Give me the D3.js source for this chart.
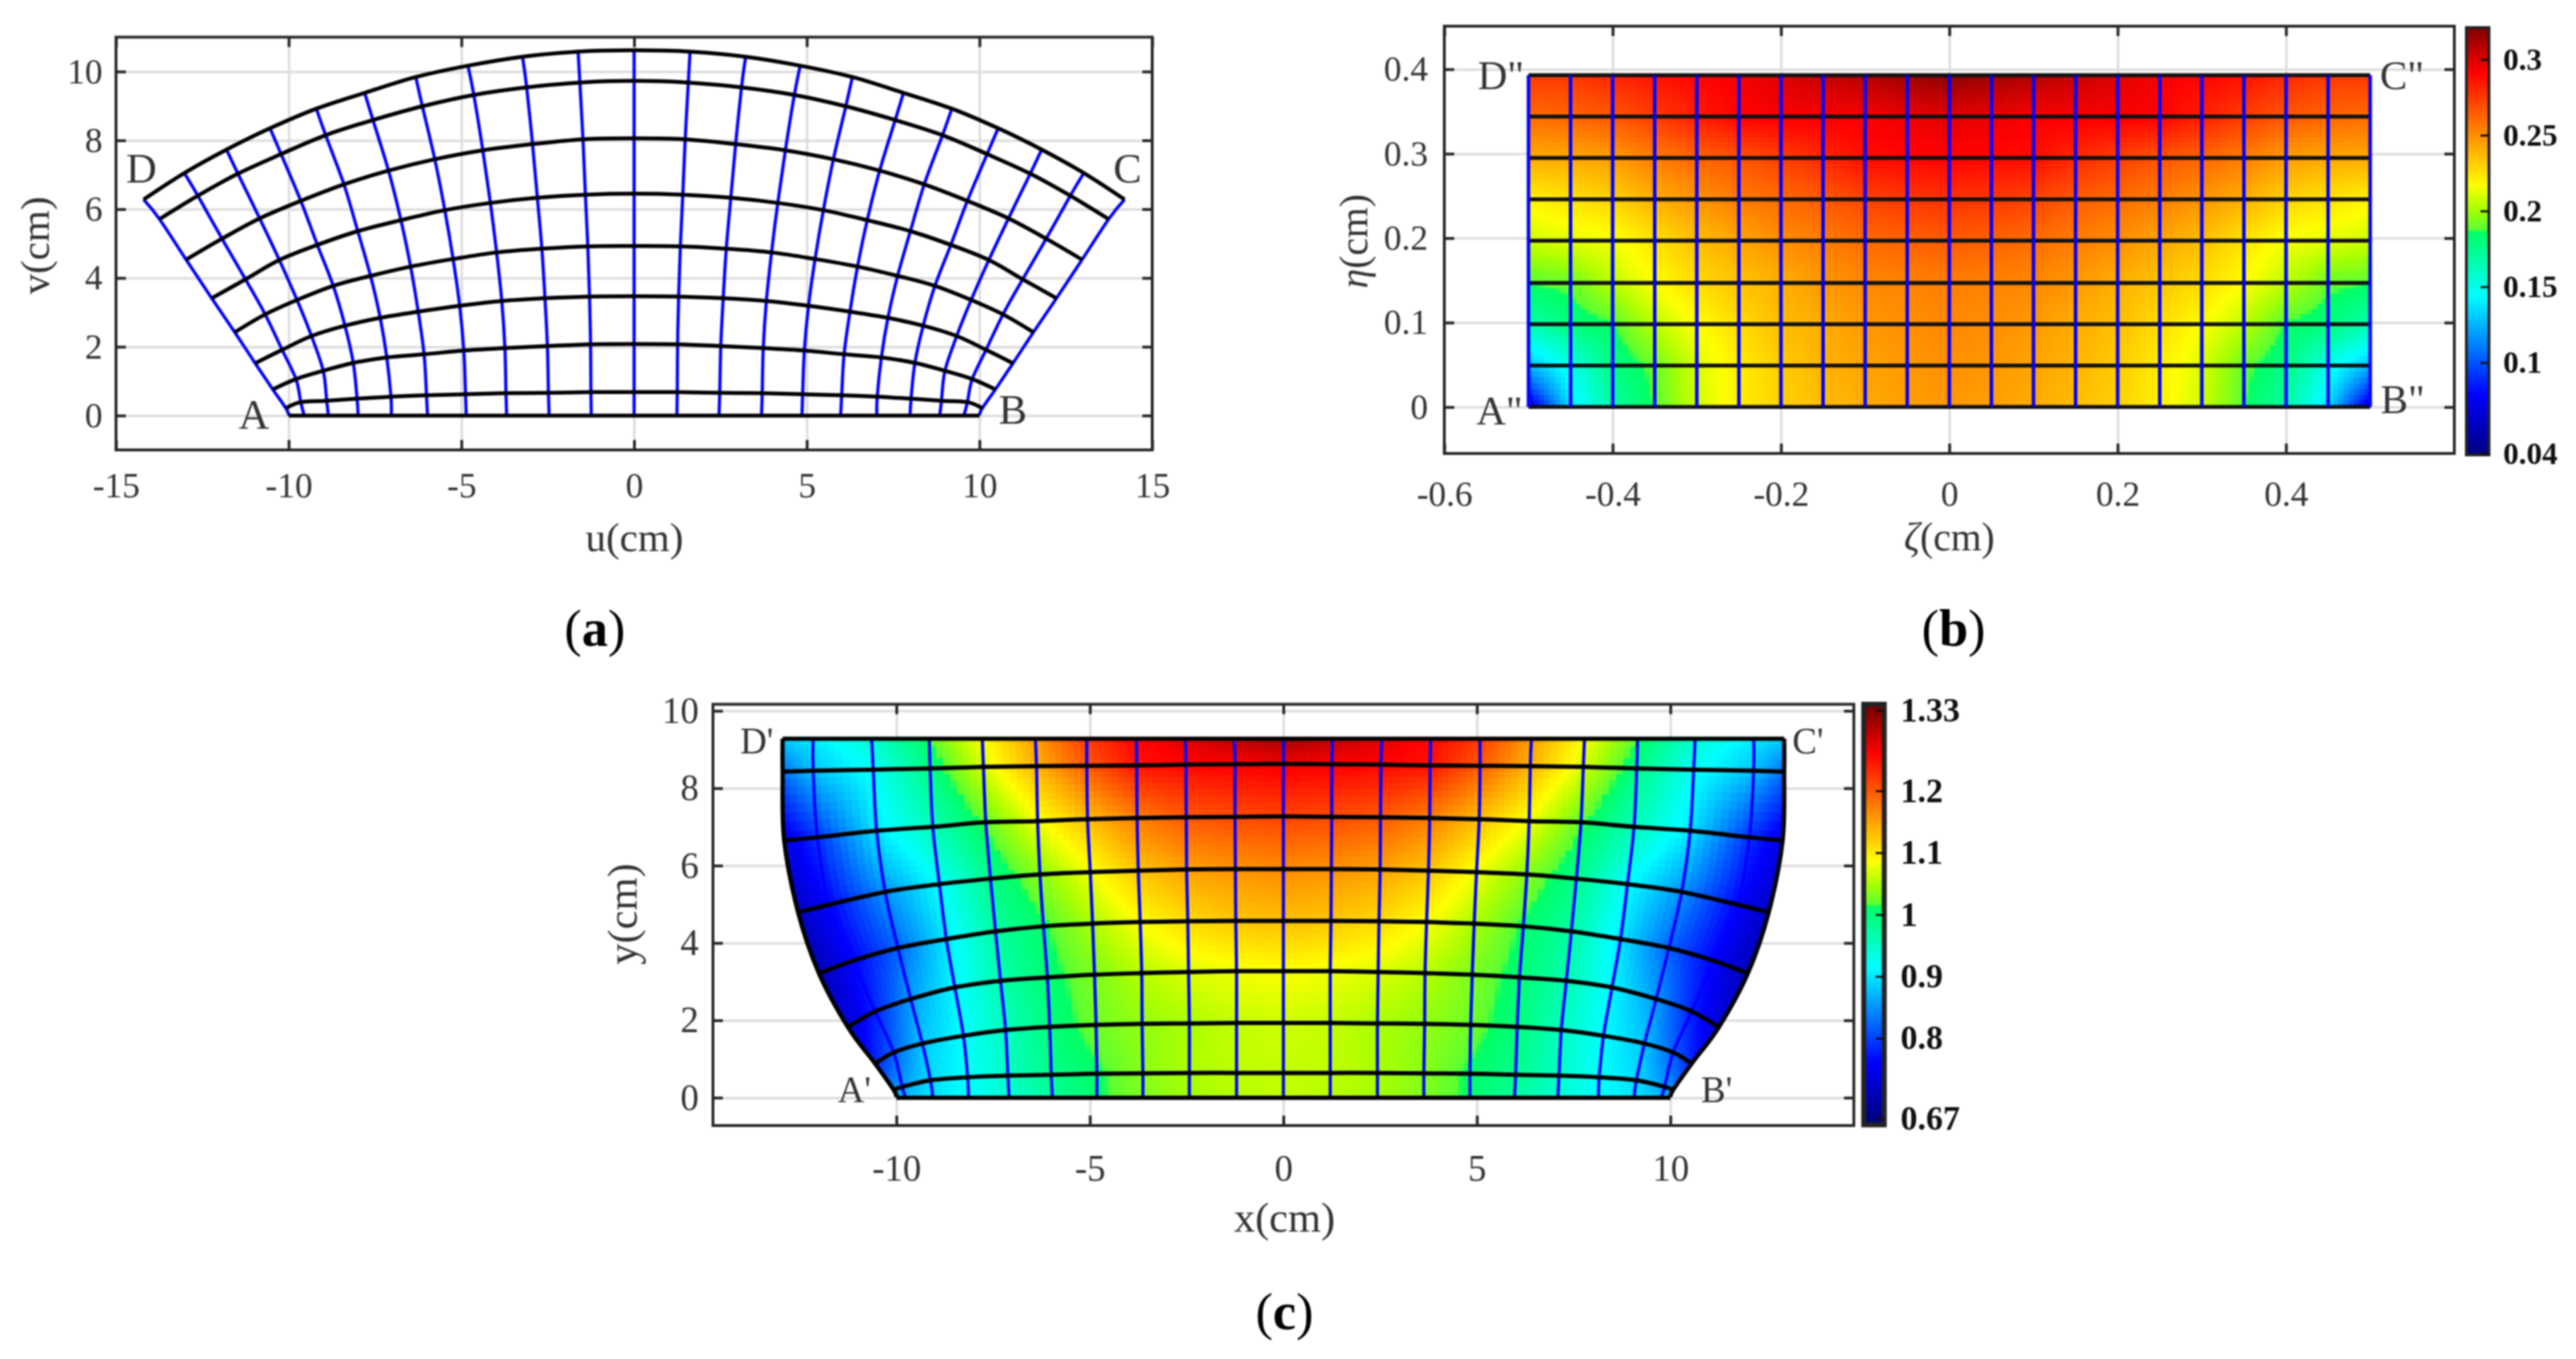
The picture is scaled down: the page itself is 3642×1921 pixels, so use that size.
<!DOCTYPE html>
<html lang="en">
<head>
    <meta charset="UTF-8">
    <title>Mesh mapping panels</title>
    <script src="https://d3js.org/d3.v7.min.js"></script>
    <style>
        body { margin: 0; background: #fff; }
        svg { display: block; filter: blur(0.9px); }
        text { font-family: "Liberation Serif", serif; fill: #333; }
        .cbar text { font-weight: bold; fill: #111; }
    </style>
</head>
<body>
    <div id="chart"></div>

    <script>
        // left half of every mesh, i = 0..10, rows j = 0 (bottom) .. 8 (top); the right half mirrors it
        var aNodeX = [
            [-10.00, -9.55, -8.85, -7.99, -7.03, -5.98, -4.86, -3.69, -2.46, -1.24, 0],
            [-10.08, -9.65, -8.90, -8.02, -7.04, -6.01, -4.88, -3.71, -2.48, -1.25, 0],
            [-10.46, -9.79, -9.00, -8.13, -7.16, -6.08, -4.93, -3.74, -2.51, -1.26, 0],
            [-10.97, -10.19, -9.34, -8.37, -7.35, -6.25, -5.05, -3.83, -2.58, -1.29, 0],
            [-11.56, -10.68, -9.76, -8.71, -7.63, -6.47, -5.24, -3.98, -2.67, -1.34, 0],
            [-12.23, -11.25, -10.27, -9.17, -8.00, -6.75, -5.48, -4.16, -2.80, -1.41, 0],
            [-12.97, -11.93, -10.84, -9.65, -8.40, -7.11, -5.77, -4.38, -2.94, -1.48, 0],
            [-13.74, -12.63, -11.47, -10.22, -8.93, -7.56, -6.13, -4.64, -3.11, -1.57, 0],
            [-14.20, -13.02, -11.80, -10.54, -9.20, -7.80, -6.32, -4.81, -3.23, -1.62, 0]
        ];
        var aNodeY = [
            [0, 0, 0, 0, 0, 0, 0, 0, 0, 0, 0],
            [0.21, 0.39, 0.43, 0.49, 0.55, 0.59, 0.62, 0.65, 0.66, 0.68, 0.68],
            [0.76, 1.06, 1.30, 1.53, 1.69, 1.78, 1.89, 1.96, 2.02, 2.07, 2.08],
            [1.52, 1.91, 2.31, 2.61, 2.84, 3.02, 3.19, 3.33, 3.41, 3.46, 3.47],
            [2.42, 2.94, 3.36, 3.77, 4.06, 4.33, 4.55, 4.74, 4.85, 4.92, 4.93],
            [3.41, 3.96, 4.52, 4.96, 5.36, 5.68, 5.97, 6.18, 6.33, 6.42, 6.45],
            [4.53, 5.14, 5.73, 6.24, 6.72, 7.12, 7.45, 7.71, 7.89, 8.03, 8.06],
            [5.71, 6.39, 7.03, 7.60, 8.15, 8.59, 8.99, 9.32, 9.54, 9.68, 9.73],
            [6.28, 7.05, 7.73, 8.35, 8.92, 9.38, 9.84, 10.17, 10.43, 10.58, 10.62]
        ];

        var bZeta = [-0.5, -0.45, -0.4, -0.35, -0.3, -0.25, -0.2, -0.15, -0.1, -0.05, 0];
        var bEta = [0, 0.049, 0.098, 0.147, 0.197, 0.246, 0.295, 0.344, 0.393];
        var bValues = [
            [0.060, 0.135, 0.168, 0.187, 0.208, 0.221, 0.230, 0.236, 0.241, 0.245, 0.247],
            [0.127, 0.150, 0.178, 0.190, 0.210, 0.222, 0.232, 0.239, 0.244, 0.247, 0.250],
            [0.165, 0.180, 0.186, 0.205, 0.217, 0.227, 0.236, 0.241, 0.247, 0.250, 0.252],
            [0.187, 0.190, 0.205, 0.217, 0.227, 0.234, 0.240, 0.247, 0.252, 0.253, 0.255],
            [0.208, 0.212, 0.215, 0.225, 0.236, 0.243, 0.250, 0.255, 0.260, 0.263, 0.265],
            [0.220, 0.225, 0.230, 0.240, 0.248, 0.255, 0.260, 0.265, 0.272, 0.275, 0.277],
            [0.242, 0.242, 0.246, 0.255, 0.262, 0.267, 0.273, 0.280, 0.288, 0.290, 0.291],
            [0.260, 0.262, 0.266, 0.274, 0.283, 0.291, 0.293, 0.293, 0.293, 0.296, 0.298],
            [0.276, 0.277, 0.282, 0.288, 0.2915, 0.294, 0.300, 0.306, 0.310, 0.316, 0.320]
        ];

        var cNodeX = [
            [-10.00, -9.76, -9.06, -8.14, -7.09, -5.97, -4.82, -3.63, -2.43, -1.21, 0],
            [-10.07, -9.85, -9.12, -8.16, -7.12, -6.00, -4.82, -3.63, -2.43, -1.21, 0],
            [-10.55, -10.07, -9.33, -8.27, -7.18, -6.04, -4.84, -3.65, -2.43, -1.21, 0],
            [-11.25, -10.55, -9.63, -8.49, -7.31, -6.10, -4.88, -3.66, -2.45, -1.21, 0],
            [-12.00, -11.12, -9.96, -8.71, -7.44, -6.20, -4.93, -3.70, -2.47, -1.23, 0],
            [-12.54, -11.73, -10.29, -8.89, -7.57, -6.29, -4.99, -3.75, -2.50, -1.24, 0],
            [-12.90, -12.04, -10.51, -9.06, -7.69, -6.35, -5.06, -3.78, -2.51, -1.25, 0],
            [-12.94, -12.15, -10.60, -9.13, -7.75, -6.38, -5.08, -3.79, -2.52, -1.25, 0],
            [-12.94, -12.15, -10.64, -9.15, -7.78, -6.41, -5.08, -3.80, -2.54, -1.27, 0]
        ];
        var cNodeY = [
            [0, 0, 0, 0, 0, 0, 0, 0, 0, 0, 0],
            [0.20, 0.28, 0.45, 0.53, 0.57, 0.59, 0.62, 0.63, 0.64, 0.64, 0.64],
            [0.88, 1.17, 1.40, 1.60, 1.75, 1.83, 1.88, 1.91, 1.92, 1.93, 1.93],
            [1.82, 2.23, 2.55, 2.85, 3.02, 3.11, 3.18, 3.22, 3.25, 3.27, 3.27],
            [3.21, 3.54, 3.87, 4.10, 4.30, 4.43, 4.50, 4.54, 4.56, 4.57, 4.57],
            [4.79, 4.99, 5.32, 5.52, 5.66, 5.77, 5.83, 5.87, 5.90, 5.91, 5.91],
            [6.65, 6.73, 6.90, 7.00, 7.12, 7.15, 7.20, 7.23, 7.25, 7.26, 7.27],
            [8.43, 8.45, 8.48, 8.51, 8.55, 8.57, 8.58, 8.59, 8.61, 8.62, 8.63],
            [9.28, 9.28, 9.28, 9.28, 9.28, 9.28, 9.28, 9.28, 9.28, 9.28, 9.28]
        ];
        var cValues = [
            [0.885, 0.885, 0.900, 0.915, 0.940, 0.975, 1.010, 1.030, 1.045, 1.055, 1.058],
            [0.850, 0.855, 0.895, 0.915, 0.950, 0.990, 1.010, 1.035, 1.050, 1.058, 1.060],
            [0.780, 0.820, 0.880, 0.915, 0.955, 1.000, 1.025, 1.040, 1.050, 1.060, 1.065],
            [0.730, 0.780, 0.855, 0.910, 0.965, 1.005, 1.030, 1.055, 1.070, 1.080, 1.085],
            [0.705, 0.760, 0.820, 0.900, 0.975, 1.010, 1.050, 1.085, 1.110, 1.125, 1.130],
            [0.715, 0.760, 0.850, 0.915, 0.990, 1.035, 1.080, 1.125, 1.150, 1.160, 1.165],
            [0.740, 0.790, 0.900, 0.960, 1.020, 1.080, 1.130, 1.175, 1.200, 1.210, 1.215],
            [0.830, 0.880, 0.920, 0.995, 1.070, 1.140, 1.200, 1.250, 1.260, 1.265, 1.270],
            [0.890, 0.905, 0.947, 1.020, 1.085, 1.155, 1.225, 1.260, 1.280, 1.300, 1.320]
        ];

        // colour bar positions (0..1) and colours
        var mapStops = [0, 0.138, 0.37, 0.52, 0.525, 0.575, 0.63, 0.895, 1];
        var mapColors = ["#000082", "#0000ff", "#00ffff", "#00ff64", "#5aff32", "#aaff00", "#ffff00", "#ff0000", "#800000"];

        var aXTicks = [-15, -10, -5, 0, 5, 10, 15];
        var aYTicks = [0, 2, 4, 6, 8, 10];
        var bXTicks = [-0.6, -0.4, -0.2, 0, 0.2, 0.4];
        var bYTicks = [0, 0.1, 0.2, 0.3, 0.4];
        var cXTicks = [-10, -5, 0, 5, 10];
        var cYTicks = [0, 2, 4, 6, 8, 10];
        var bBarTicks = [0.04, 0.1, 0.15, 0.2, 0.25, 0.3];
        var cBarTicks = [0.67, 0.8, 0.9, 1, 1.1, 1.2, 1.33];

        var svg = d3.select("#chart").append("svg")
            .attr("width", 3642)
            .attr("height", 1921);

        var mapScale = d3.scaleLinear().domain(mapStops).range(mapColors).clamp(true);

        function mirrorNeg(rows) {
            return rows.map(function(r) {
                return r.concat(r.slice(0, -1).reverse().map(function(v) { return -v; }));
            });
        }
        function mirrorSame(rows) {
            return rows.map(function(r) {
                return r.concat(r.slice(0, -1).reverse());
            });
        }

        // frame, grid, inward ticks on all sides and the labels
        function drawAxes(g, x, y, xTicks, yTicks, opt) {
            var x0 = x.range()[0], x1 = x.range()[1], y0 = y.range()[0], y1 = y.range()[1];
            var grid = g.append("g");
            grid.append("g").attr("transform", "translate(0," + y0 + ")")
                .call(d3.axisBottom(x).tickValues(xTicks).tickSize(y1 - y0).tickFormat(""));
            grid.append("g").attr("transform", "translate(" + x0 + ",0)")
                .call(d3.axisLeft(y).tickValues(yTicks).tickSize(x0 - x1).tickFormat(""));
            grid.selectAll(".domain").remove();
            grid.selectAll("line").attr("stroke", "#dddddd").attr("stroke-width", 3.5);
            return function() {
                var top = g.append("g");
                top.append("g").attr("transform", "translate(0," + y0 + ")")
                    .call(d3.axisBottom(x).tickValues(xTicks).tickSize(-14).tickPadding(opt.xPad).tickFormat(String));
                top.append("g").attr("transform", "translate(0," + y1 + ")")
                    .call(d3.axisTop(x).tickValues(xTicks).tickSize(-14).tickFormat(""));
                top.append("g").attr("transform", "translate(" + x0 + ",0)")
                    .call(d3.axisLeft(y).tickValues(yTicks).tickSize(-14).tickPadding(opt.yPad).tickFormat(String));
                top.append("g").attr("transform", "translate(" + x1 + ",0)")
                    .call(d3.axisRight(y).tickValues(yTicks).tickSize(-14).tickFormat(""));
                top.selectAll(".domain").remove();
                top.selectAll("line").attr("stroke", "#262626").attr("stroke-width", 4);
                top.selectAll("text").style("font-size", opt.tickSize + "px").style("font-family", null).attr("fill", null);
                top.append("rect")
                    .attr("x", x0).attr("y", y1)
                    .attr("width", x1 - x0).attr("height", y0 - y1)
                    .attr("fill", "none").attr("stroke", "#262626").attr("stroke-width", 4);
            };
        }

        function axisLabel(g, html, px, py, size, rotate) {
            var t = g.append("text")
                .attr("text-anchor", "middle")
                .attr("dominant-baseline", "middle")
                .attr("transform", "translate(" + px + "," + py + ")" + (rotate ? " rotate(-90)" : ""))
                .style("font-size", size + "px");
            html.forEach(function(part) {
                t.append("tspan").style("font-style", part[1] ? "italic" : null).text(part[0]);
            });
        }

        function pointLabel(g, s, px, py, size) {
            g.append("text")
                .attr("x", px).attr("y", py)
                .attr("text-anchor", "middle")
                .attr("dominant-baseline", "middle")
                .style("font-size", size + "px")
                .text(s);
        }

        function caption(letter, px, py) {
            var t = svg.append("text")
                .attr("x", px).attr("y", py)
                .attr("text-anchor", "middle")
                .attr("dominant-baseline", "middle")
                .style("font-size", "74px");
            t.append("tspan").style("fill", "#000").text("(");
            t.append("tspan").style("fill", "#000").style("font-weight", "bold").text(letter);
            t.append("tspan").style("fill", "#000").text(")");
        }

        // uniform Catmull-Rom along one column of nodes, same curve as the drawn lines
        function spline(col, v) {
            var n = col.length - 1;
            var k = Math.min(Math.floor(v), n - 1), t = v - k;
            var p0 = col[Math.max(k - 1, 0)], p1 = col[k], p2 = col[k + 1], p3 = col[Math.min(k + 2, n)];
            return 0.5 * (2 * p1 + (p2 - p0) * t + (2 * p0 - 5 * p1 + 4 * p2 - p3) * t * t + (3 * p1 - p0 - 3 * p2 + p3) * t * t * t);
        }

        function column(rows, i) {
            return rows.map(function(r) { return r[i]; });
        }

        // shaded cells, each cut into small quads coloured from its four corner values
        function shadeMesh(g, X, Y, V, x, y, color, sub) {
            var quads = [];
            var nj = X.length - 1, ni = X[0].length - 1;
            d3.range(nj).forEach(function(j) {
                d3.range(ni).forEach(function(i) {
                    var cxa = column(X, i), cxb = column(X, i + 1), cya = column(Y, i), cyb = column(Y, i + 1);
                    function pt(u, v) {
                        var px = spline(cxa, j + v) * (1 - u) + spline(cxb, j + v) * u;
                        var py = spline(cya, j + v) * (1 - u) + spline(cyb, j + v) * u;
                        return [x(px), y(py)];
                    }
                    d3.range(sub).forEach(function(b) {
                        d3.range(sub).forEach(function(a) {
                            var u0 = a / sub, u1 = (a + 1) / sub, v0 = b / sub, v1 = (b + 1) / sub;
                            var um = (u0 + u1) / 2, vm = (v0 + v1) / 2;
                            var val = (V[j][i] * (1 - um) + V[j][i + 1] * um) * (1 - vm) +
                                      (V[j + 1][i] * (1 - um) + V[j + 1][i + 1] * um) * vm;
                            quads.push({
                                pts: [pt(u0, v0), pt(u1, v0), pt(u1, v1), pt(u0, v1)],
                                v: val
                            });
                        });
                    });
                });
            });
            g.append("g").selectAll("path")
                .data(quads)
                .enter()
                .append("path")
                .attr("d", function(d) { return "M" + d.pts.join("L") + "Z"; })
                .attr("fill", function(d) { return color(d.v); })
                .attr("stroke", function(d) { return color(d.v); })
                .attr("stroke-width", 0.8);
        }

        function meshLines(g, X, Y, x, y, rowColor, colColor, rowW, colW, rowsOnTop, edgeColor) {
            var line = d3.line()
                .x(function(d) { return x(d[0]); })
                .y(function(d) { return y(d[1]); })
                .curve(d3.curveCatmullRom.alpha(0));
            var rows = X.map(function(r, j) {
                return r.map(function(v, i) { return [v, Y[j][i]]; });
            });
            var cols = d3.range(X[0].length).map(function(i) {
                return X.map(function(r, j) { return [r[i], Y[j][i]]; });
            });
            function drawCols() {
                g.append("g").selectAll("path").data(cols).enter().append("path")
                    .attr("d", line).attr("fill", "none")
                    .attr("stroke", function(d, i) {
                        return edgeColor && (i === 0 || i === cols.length - 1) ? edgeColor : colColor;
                    })
                    .attr("stroke-width", function(d, i) {
                        return edgeColor && (i === 0 || i === cols.length - 1) ? colW + 1.5 : colW;
                    });
            }
            function drawRows() {
                g.append("g").selectAll("path").data(rows).enter().append("path")
                    .attr("d", line).attr("fill", "none")
                    .attr("stroke", rowColor).attr("stroke-width", rowW);
            }
            if (rowsOnTop) { drawCols(); drawRows(); } else { drawRows(); drawCols(); }
        }

        function colorBar(name, yBar, ticks, left, right, top, bottom, color, labelGap, size, lineW) {
            var g = svg.append("g").attr("class", "cbar");
            var grad = svg.append("defs").append("linearGradient")
                .attr("id", name)
                .attr("gradientUnits", "userSpaceOnUse")
                .attr("x1", 0).attr("y1", yBar(color[0]))
                .attr("x2", 0).attr("y2", yBar(color[1]));
            grad.selectAll("stop")
                .data(mapStops)
                .enter()
                .append("stop")
                .attr("offset", function(d) { return d; })
                .attr("stop-color", function(d, i) { return mapColors[i]; });
            g.append("rect")
                .attr("x", left).attr("y", top)
                .attr("width", right - left).attr("height", bottom - top)
                .attr("fill", "url(#" + name + ")")
                .attr("stroke", "#222").attr("stroke-width", lineW);
            var ax = g.append("g").attr("transform", "translate(" + right + ",0)")
                .call(d3.axisRight(yBar).tickValues(ticks).tickSize(-12).tickPadding(labelGap).tickFormat(String));
            ax.select(".domain").remove();
            ax.selectAll("line").attr("stroke", "#111").attr("stroke-width", 3);
            ax.selectAll("text").style("font-size", size + "px").style("font-family", null).attr("fill", null);
        }

        // panel a
        var ga = svg.append("g");
        var xa = d3.scaleLinear().domain([-15, 15]).range([164, 1629]);
        var ya = d3.scaleLinear().domain([-1, 11]).range([636, 52.5]);
        var aX = mirrorNeg(aNodeX), aY = mirrorSame(aNodeY);
        var finishA = drawAxes(ga, xa, ya, aXTicks, aYTicks, { xPad: 31, yPad: 19, tickSize: 50 });
        meshLines(ga, aX, aY, xa, ya, "#000000", "#0000ff", 5.5, 4.5, true);
        finishA();
        axisLabel(ga, [["u(cm)"]], 897, 766, 58);
        axisLabel(ga, [["v(cm)"]], 56, 347, 58, true);
        pointLabel(ga, "A", 359, 592, 60);
        pointLabel(ga, "B", 1432, 585, 60);
        pointLabel(ga, "C", 1594, 244, 60);
        pointLabel(ga, "D", 200, 244, 60);
        caption("a", 841, 896);

        // panel b
        var gb = svg.append("g");
        var xb = d3.scaleLinear().domain([-0.6, 0.6]).range([2042, 3470]);
        var yb = d3.scaleLinear().domain([-0.055, 0.451]).range([641, 37]);
        var bRowX = bEta.map(function() { return bZeta; });
        var bRowY = bEta.map(function(e) { return bZeta.map(function() { return e; }); });
        var bX = mirrorNeg(bRowX), bY = mirrorSame(bRowY), bV = mirrorSame(bValues);
        var bColor = d3.scaleLinear().domain([0.04, 0.321]).range([0, 1]);
        var finishB = drawAxes(gb, xb, yb, bXTicks, bYTicks, { xPad: 38, yPad: 23, tickSize: 50 });
        shadeMesh(gb, bX, bY, bV, xb, yb, function(v) { return mapScale(bColor(v)); }, 8);
        meshLines(gb, bX, bY, xb, yb, "#111111", "#0000ff", 5.5, 5, false);
        finishB();
        axisLabel(gb, [["\u03b7", true], ["(cm)"]], 1920, 341, 56, true);
        axisLabel(gb, [["\u03b6", true], ["(cm)"]], 2756, 765, 56);
        pointLabel(gb, "A\"", 2120, 587, 58);
        pointLabel(gb, "B\"", 3397, 571, 58);
        pointLabel(gb, "C\"", 3396, 113, 58);
        pointLabel(gb, "D\"", 2122, 113, 58);
        caption("b", 2762, 896);
        var yBarB = d3.scaleLinear().domain([0.04, 0.321]).range([641, 39]);
        colorBar("barB", yBarB, bBarTicks, 3487, 3519, 39, 643, [0.04, 0.321], 20, 44, 4);

        // panel c
        var gc = svg.append("g");
        var xc = d3.scaleLinear().domain([-14.74, 14.74]).range([1008, 2621]);
        var yc = d3.scaleLinear().domain([-0.72, 10.17]).range([1591, 995.5]);
        var cX = mirrorNeg(cNodeX), cY = mirrorSame(cNodeY), cV = mirrorSame(cValues);
        var cColor = d3.scaleLinear().domain([0.67, 1.33]).range([0, 1]);
        var finishC = drawAxes(gc, xc, yc, cXTicks, cYTicks, { xPad: 41, yPad: 20, tickSize: 52 });
        shadeMesh(gc, cX, cY, cV, xc, yc, function(v) { return mapScale(cColor(v)); }, 8);
        meshLines(gc, cX, cY, xc, yc, "#000000", "#0000ff", 6, 4.5, true, "#000000");
        finishC();
        axisLabel(gc, [["y(cm)"]], 886, 1292, 60, true);
        axisLabel(gc, [["x(cm)"]], 1816, 1727, 60);
        pointLabel(gc, "A'", 1208, 1546, 52);
        pointLabel(gc, "B'", 2427, 1546, 52);
        pointLabel(gc, "C'", 2556, 1053, 52);
        pointLabel(gc, "D'", 1070, 1053, 52);
        caption("c", 1816, 1862);
        var yBarC = d3.scaleLinear().domain([0.66, 1.34]).range([1590, 995.5]);
        colorBar("barC", yBarC, cBarTicks, 2635, 2664, 995.5, 1590, [0.67, 1.33], 23, 48, 7);
    </script>
</body>
</html>
